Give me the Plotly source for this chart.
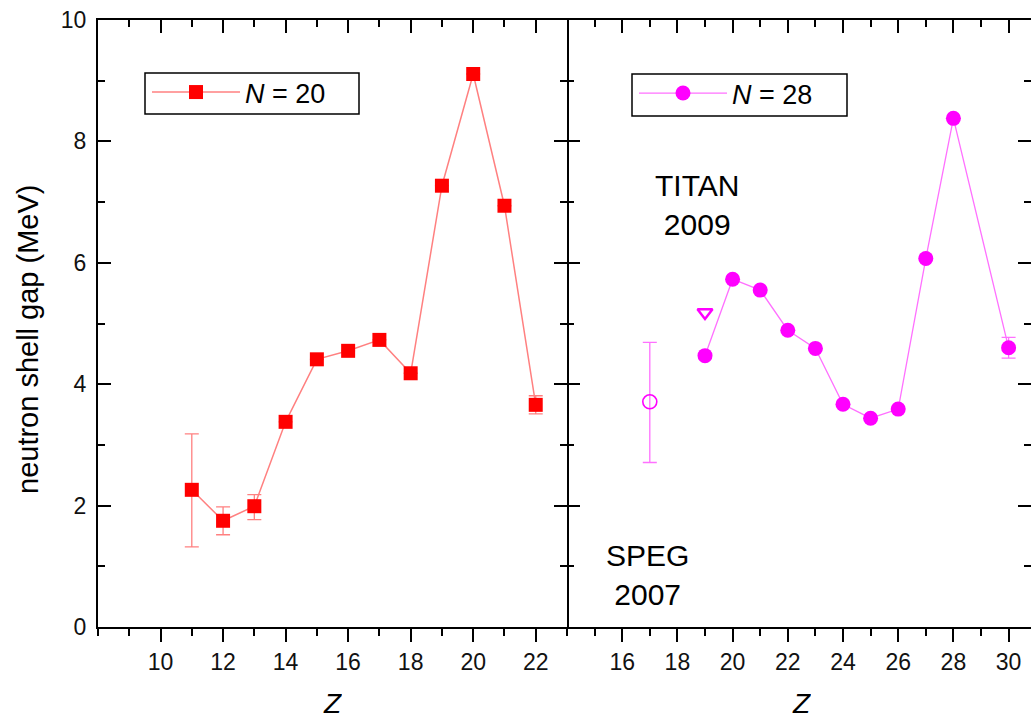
import plotly.graph_objects as go

# ---- data ----
z_n20 = [11, 12, 13, 14, 15, 16, 17, 18, 19, 20, 21, 22]
gap_n20 = [2.26, 1.75, 1.99, 3.38, 4.41, 4.55, 4.73, 4.18, 7.27, 9.11, 6.94, 3.66]
err_n20_plus = [0.92, 0.23, 0.19, None, None, None, None, None, None, None, None, 0.15]
err_n20_minus = [0.94, 0.23, 0.22, None, None, None, None, None, None, None, None, 0.15]

z_n28 = [19, 20, 21, 22, 23, 24, 25, 26, 27, 28, 30]
gap_n28 = [4.47, 5.73, 5.55, 4.89, 4.59, 3.67, 3.44, 3.59, 6.07, 8.38, 4.60]
err_n28 = [None, None, None, None, None, None, None, None, None, None, 0.17]

z_speg = [17]
gap_speg = [3.71]
err_speg_plus = [0.98]
err_speg_minus = [1.00]

z_tri = [19]
gap_tri = [5.18]

x_ticks_left = [10, 12, 14, 16, 18, 20, 22]
x_ticks_right = [16, 18, 20, 22, 24, 26, 28, 30]
y_ticks = [0, 2, 4, 6, 8, 10]

RED = "#FF0000"
RED_LINE = "#FF8080"
MAG = "#FF00FF"
MAG_LINE = "#FF70FF"
FONT = "Liberation Sans, Arial, sans-serif"

W, H = 1031, 720
L0, MID, TOP, BOT = 98, 567, 20, 627

fig = go.Figure()

fig.add_trace(go.Scatter(
    x=z_n20, y=gap_n20, mode="lines+markers", name="<i>N</i> = 20",
    line=dict(color=RED_LINE, width=1.5),
    marker=dict(symbol="square", size=14, color=RED),
    error_y=dict(type="data", symmetric=False, array=err_n20_plus, arrayminus=err_n20_minus,
                 color=RED_LINE, thickness=1.3, width=7),
    xaxis="x", yaxis="y", legend="legend",
))

fig.add_trace(go.Scatter(
    x=z_n28, y=gap_n28, mode="lines+markers", name="<i>N</i> = 28",
    line=dict(color=MAG_LINE, width=1.3),
    marker=dict(symbol="circle", size=15, color=MAG),
    error_y=dict(type="data", array=err_n28, color=MAG_LINE, thickness=1.3, width=7),
    xaxis="x2", yaxis="y2", legend="legend2",
))

fig.add_trace(go.Scatter(
    x=z_speg, y=gap_speg, mode="markers", showlegend=False,
    marker=dict(symbol="circle-open", size=14, color=MAG, line=dict(width=1.6)),
    error_y=dict(type="data", symmetric=False, array=err_speg_plus, arrayminus=err_speg_minus,
                 color=MAG_LINE, thickness=1.3, width=7),
    xaxis="x2", yaxis="y2",
))

fig.add_trace(go.Scatter(
    x=z_tri, y=gap_tri, mode="markers", showlegend=False,
    marker=dict(symbol="triangle-down-open", size=13, color=MAG, line=dict(width=2.5)),
    xaxis="x2", yaxis="y2",
))

# invisible traces for the top (inward-tick) axes
fig.add_trace(go.Scatter(x=[None], y=[None], xaxis="x3", yaxis="y", showlegend=False, hoverinfo="skip"))
fig.add_trace(go.Scatter(x=[None], y=[None], xaxis="x4", yaxis="y2", showlegend=False, hoverinfo="skip"))

dl = [L0 / W, MID / W]
dr = [MID / W, 1.0]
dy = [1 - BOT / H, 1 - TOP / H]
px_per_z_right = 27.6
right_max = 14 + (W - MID) / px_per_z_right

common_x = dict(showgrid=False, zeroline=False, showline=True, linecolor="black", linewidth=2,
                tickcolor="black", tickwidth=2, ticklen=13, automargin=False,
                tickfont=dict(family=FONT, size=23, color="#111"))
common_y = dict(showgrid=False, zeroline=False, showline=True, linecolor="black", linewidth=2,
                tickcolor="black", tickwidth=2, ticklen=13, range=[0, 10], automargin=False,
                tickvals=y_ticks, ticks="inside", mirror="ticks", ticklabelstandoff=5,
                minor=dict(dtick=1, tick0=0, ticks="inside", ticklen=7, tickwidth=2, tickcolor="black"),
                tickfont=dict(family=FONT, size=23, color="#111"))

leg_common = dict(xanchor="left", yanchor="top", borderwidth=0,
                  bgcolor="rgba(0,0,0,0)", itemwidth=88, font=dict(family=FONT, size=27, color="black"))

fig.update_layout(
    width=W, height=H, autosize=False,
    margin=dict(l=0, r=0, t=0, b=0, pad=0, autoexpand=False),
    paper_bgcolor="white", plot_bgcolor="white",
    xaxis=dict(common_x, domain=dl, range=[8, 23], anchor="y", tickvals=x_ticks_left, ticks="outside",
               minor=dict(dtick=1, tick0=0, ticks="outside", ticklen=7, tickwidth=2, tickcolor="black")),
    xaxis2=dict(common_x, domain=dr, range=[14, right_max], anchor="y2", tickvals=x_ticks_right, ticks="outside",
                minor=dict(dtick=1, tick0=0, ticks="outside", ticklen=7, tickwidth=2, tickcolor="black")),
    xaxis3=dict(common_x, overlaying="x", side="top", anchor="y", range=[8, 23], tickvals=x_ticks_left,
                ticks="inside", showticklabels=False,
                minor=dict(dtick=1, tick0=0, ticks="inside", ticklen=7, tickwidth=2, tickcolor="black")),
    xaxis4=dict(common_x, overlaying="x2", side="top", anchor="y2", range=[14, right_max], tickvals=x_ticks_right,
                ticks="inside", showticklabels=False,
                minor=dict(dtick=1, tick0=0, ticks="inside", ticklen=7, tickwidth=2, tickcolor="black")),
    yaxis=dict(common_y, domain=dy, anchor="x"),
    yaxis2=dict(common_y, domain=dy, anchor="x2", showticklabels=False, showline=False),
    legend=dict(leg_common, x=147 / W, y=1 - 68 / H),
    legend2=dict(leg_common, x=634 / W, y=1 - 69 / H),
    showlegend=True,
)

# legend frames
fig.add_shape(type="rect", xref="paper", yref="paper", x0=145 / W, x1=359 / W, y0=1 - 114 / H, y1=1 - 73 / H,
              line=dict(color="black", width=1.5), fillcolor="rgba(0,0,0,0)", layer="below")
fig.add_shape(type="rect", xref="paper", yref="paper", x0=632 / W, x1=847 / W, y0=1 - 116 / H, y1=1 - 74 / H,
              line=dict(color="black", width=1.5), fillcolor="rgba(0,0,0,0)", layer="below")

annots = [
    dict(text="neutron shell gap (MeV)", xref="paper", yref="paper", x=28 / W, y=1 - 339 / H,
         xanchor="center", yanchor="middle",
         textangle=-90, showarrow=False, font=dict(family=FONT, size=29, color="black")),
    dict(text="<i>Z</i>", xref="x domain", yref="paper", x=0.5, y=1 - 703 / H,
         xanchor="center", yanchor="middle", height=28, valign="middle",
         showarrow=False, font=dict(family=FONT, size=28, color="black")),
    dict(text="<i>Z</i>", xref="x2 domain", yref="paper", x=0.5 * (1036 - MID) / (W - MID),
         y=1 - 703 / H, xanchor="center", yanchor="middle", height=28, valign="middle",
         showarrow=False, font=dict(family=FONT, size=28, color="black")),
    dict(text="TITAN<br>2009", xref="x2", yref="y2", x=18.72, y=6.96, showarrow=False,
         font=dict(family=FONT, size=30, color="black")),
    dict(text="SPEG<br>2007", xref="x2", yref="y2", x=16.93, y=0.86, showarrow=False,
         font=dict(family=FONT, size=30, color="black")),
]
fig.update_layout(annotations=annots)

fig.write_html("out.html", config={"displayModeBar": False},
               post_script="document.body.style.margin='0';document.body.style.overflow='hidden';")
